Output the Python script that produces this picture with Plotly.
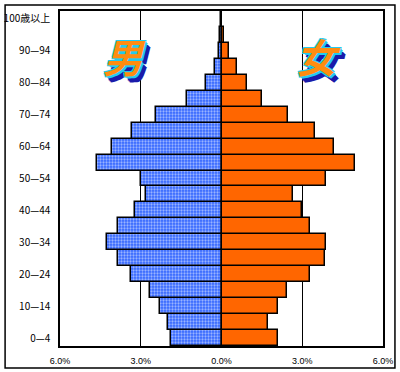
import plotly.graph_objects as go

ages = ["0—4", "5—9", "10—14", "15—19", "20—24", "25—29", "30—34", "35—39",
        "40—44", "45—49", "50—54", "55—59", "60—64", "65—69", "70—74",
        "75—79", "80—84", "85—89", "90—94", "95—99", "100歳以上"]
male = [1.89, 2.00, 2.30, 2.64, 3.38, 3.84, 4.24, 3.83, 3.20, 2.79, 3.00,
        4.61, 4.05, 3.31, 2.45, 1.29, 0.57, 0.25, 0.10, 0.04, 0.01]
female = [2.10, 1.73, 2.10, 2.45, 3.27, 3.83, 3.90, 3.27, 3.00, 2.67, 3.89,
          4.97, 4.17, 3.48, 2.47, 1.50, 0.93, 0.58, 0.26, 0.08, 0.02]
x_tickvals = [-6, -3, 0, 3, 6]
x_ticktext = ["6.0%", "3.0%", "0.0%", "3.0%", "6.0%"]
y_tickvals = ages[::2]

fig = go.Figure()
fig.add_trace(go.Bar(
    y=ages, x=[-v for v in male], orientation="h", name="男",
    marker=dict(color="#3366ff",
                pattern=dict(shape=".", fgcolor="white", bgcolor="#3366ff",
                             size=3, solidity=0.45),
                line=dict(color="black", width=1.5)),
    hoverinfo="skip"))
fig.add_trace(go.Bar(
    y=ages, x=female, orientation="h", name="女",
    marker=dict(color="#ff6600", line=dict(color="black", width=1.5)),
    hoverinfo="skip"))

shadow = ("-1px -1px 0 #22ccee, 1px -1px 0 #22ccee, -1px 1px 0 #22ccee, "
          "1px 1px 0 #22ccee, 2px 2px 0 #22ccee, 3px 4px 0 #1a1aaa, "
          "4px 5px 0 #1a1aaa, 5px 6px 0 #1a1aaa")
for txt, xp in [("男", 0.20), ("女", 0.80)]:
    fig.add_annotation(
        text=txt, xref="paper", yref="paper", x=xp, y=0.865,
        xanchor="center", yanchor="middle",
        showarrow=False,
        font=dict(family="Noto Sans CJK JP", size=40, color="#ff8c10",
                  weight="bold", style="italic", shadow=shadow))

fig.add_shape(type="rect", xref="paper", yref="paper",
              x0=-0.170, x1=1.037, y0=-0.066, y1=1.018,
              line=dict(color="black", width=1.5), layer="below")

fig.update_layout(
    width=400, height=372,
    margin=dict(l=60, r=17, t=11, b=26, autoexpand=False),
    paper_bgcolor="white", plot_bgcolor="white",
    barmode="overlay", bargap=0, showlegend=False,
    font=dict(family="Noto Sans CJK JP", color="black"),
    xaxis=dict(range=[-6, 6], tickvals=x_tickvals, ticktext=x_ticktext,
               automargin=False,
               showgrid=True, gridcolor="black", gridwidth=1,
               zeroline=True, zerolinecolor="black", zerolinewidth=1,
               showline=True, mirror=True, linecolor="black", linewidth=1.5,
               ticks="outside", ticklen=5, tickcolor="rgba(0,0,0,0)",
               tickfont=dict(family="Liberation Sans", size=9)),
    yaxis=dict(type="category", categoryorder="array", categoryarray=ages,
               range=[-0.5, 20.5], tickvals=y_tickvals, automargin=False,
               showgrid=False, zeroline=False,
               showline=True, mirror=True, linecolor="black", linewidth=1.5,
               ticks="outside", ticklen=6, tickcolor="rgba(0,0,0,0)",
               tickfont=dict(family="Noto Sans CJK JP", size=10)),
)

fig.write_html("out.html", config={"displayModeBar": False},
               post_script="document.body.style.margin='0';")
